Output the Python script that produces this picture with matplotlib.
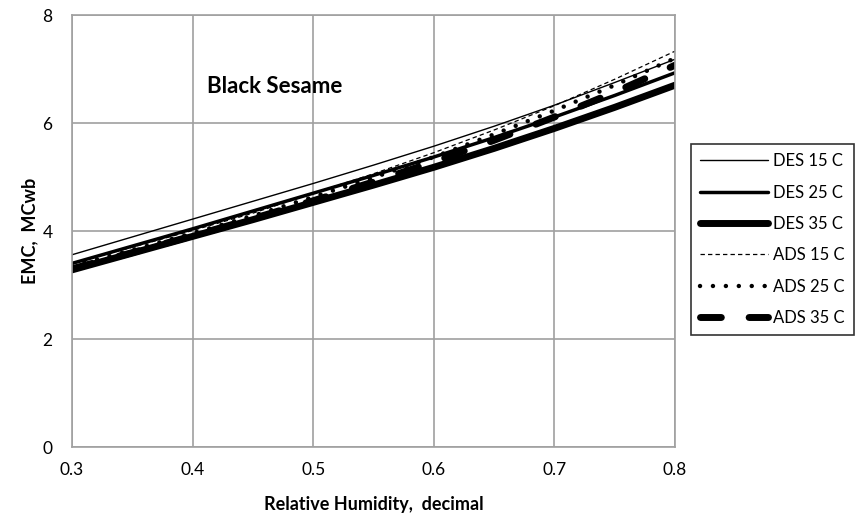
import matplotlib
matplotlib.use("Agg")
import matplotlib.pyplot as plt

plt.rcParams['font.family'] = ['Lato', 'DejaVu Sans']

rh = [0.30, 0.35, 0.40, 0.45, 0.50, 0.55, 0.60, 0.65, 0.70, 0.75, 0.80]
des15 = [3.56, 3.89, 4.22, 4.55, 4.88, 5.22, 5.57, 5.94, 6.33, 6.75, 7.18]
des25 = [3.40, 3.72, 4.04, 4.37, 4.70, 5.03, 5.37, 5.73, 6.11, 6.51, 6.93]
des35 = [3.28, 3.59, 3.90, 4.21, 4.53, 4.85, 5.18, 5.53, 5.90, 6.29, 6.70]
ads15 = [3.40, 3.70, 4.01, 4.33, 4.70, 5.06, 5.45, 5.87, 6.32, 6.81, 7.33]
ads25 = [3.35, 3.65, 3.96, 4.28, 4.63, 4.99, 5.37, 5.79, 6.23, 6.70, 7.20]
ads35 = [3.30, 3.60, 3.91, 4.23, 4.56, 4.91, 5.28, 5.68, 6.11, 6.57, 7.07]

labels = ["DES 15 C", "DES 25 C", "DES 35 C", "ADS 15 C", "ADS 25 C", "ADS 35 C"]
xticks = [0.3, 0.4, 0.5, 0.6, 0.7, 0.8]
yticks = [0, 2, 4, 6, 8]

fig = plt.figure(figsize=(8.62, 5.25), dpi=100)
ax = fig.add_axes([72/862, 1-447/525, (675-72)/862, (447-15)/525])

handles = []
h, = ax.plot(rh, des15, color='black', lw=1.0, solid_capstyle='round')
handles.append(h)
h, = ax.plot(rh, des25, color='black', lw=2.5, solid_capstyle='round')
handles.append(h)
h, = ax.plot(rh, des35, color='black', lw=5.0, solid_capstyle='round')
handles.append(h)
h, = ax.plot(rh, ads15, color='black', lw=0.9, linestyle=(0, (3.5, 2.5)))
handles.append(h)
h, = ax.plot(rh, ads25, color='black', lw=3.2, linestyle=(0, (0.01, 2.9)), dash_capstyle='round')
handles.append(h)
h, = ax.plot(rh, ads35, color='black', lw=5.0, linestyle=(0, (3.0, 4.0)), dash_capstyle='round')
handles.append(h)

ax.set_xlim(0.3, 0.8)
ax.set_ylim(0, 8)
ax.set_xticks(xticks)
ax.set_xticklabels([f"{v:.1f}" for v in xticks])
ax.set_yticks(yticks)
ax.grid(True, color='#a0a0a0', lw=1.2)
ax.set_axisbelow(True)
for s in ax.spines.values():
    s.set_color('#a0a0a0')
    s.set_linewidth(1.2)
ax.tick_params(length=0, labelsize=12.5, pad=11)
ax.tick_params(axis='y', pad=14)

ax.set_xlabel("Relative Humidity,  decimal", fontsize=13, fontweight='bold', labelpad=13)
ax.set_ylabel("EMC,  MCwb", fontsize=13, fontweight='bold', labelpad=3)
ax.text(0.412, 6.67, "Black Sesame", fontsize=16, fontweight='bold', va='center', ha='left')

leg = fig.legend(handles, labels, loc='upper left',
                 bbox_to_anchor=(691/862, 1-144/525), fontsize=12,
                 frameon=True, fancybox=False, edgecolor='black',
                 handlelength=4.1, handletextpad=0.3, labelspacing=0.92,
                 borderpad=0.55, borderaxespad=0)
leg.get_frame().set_linewidth(1.2)

fig.savefig("out.png", dpi=100)
